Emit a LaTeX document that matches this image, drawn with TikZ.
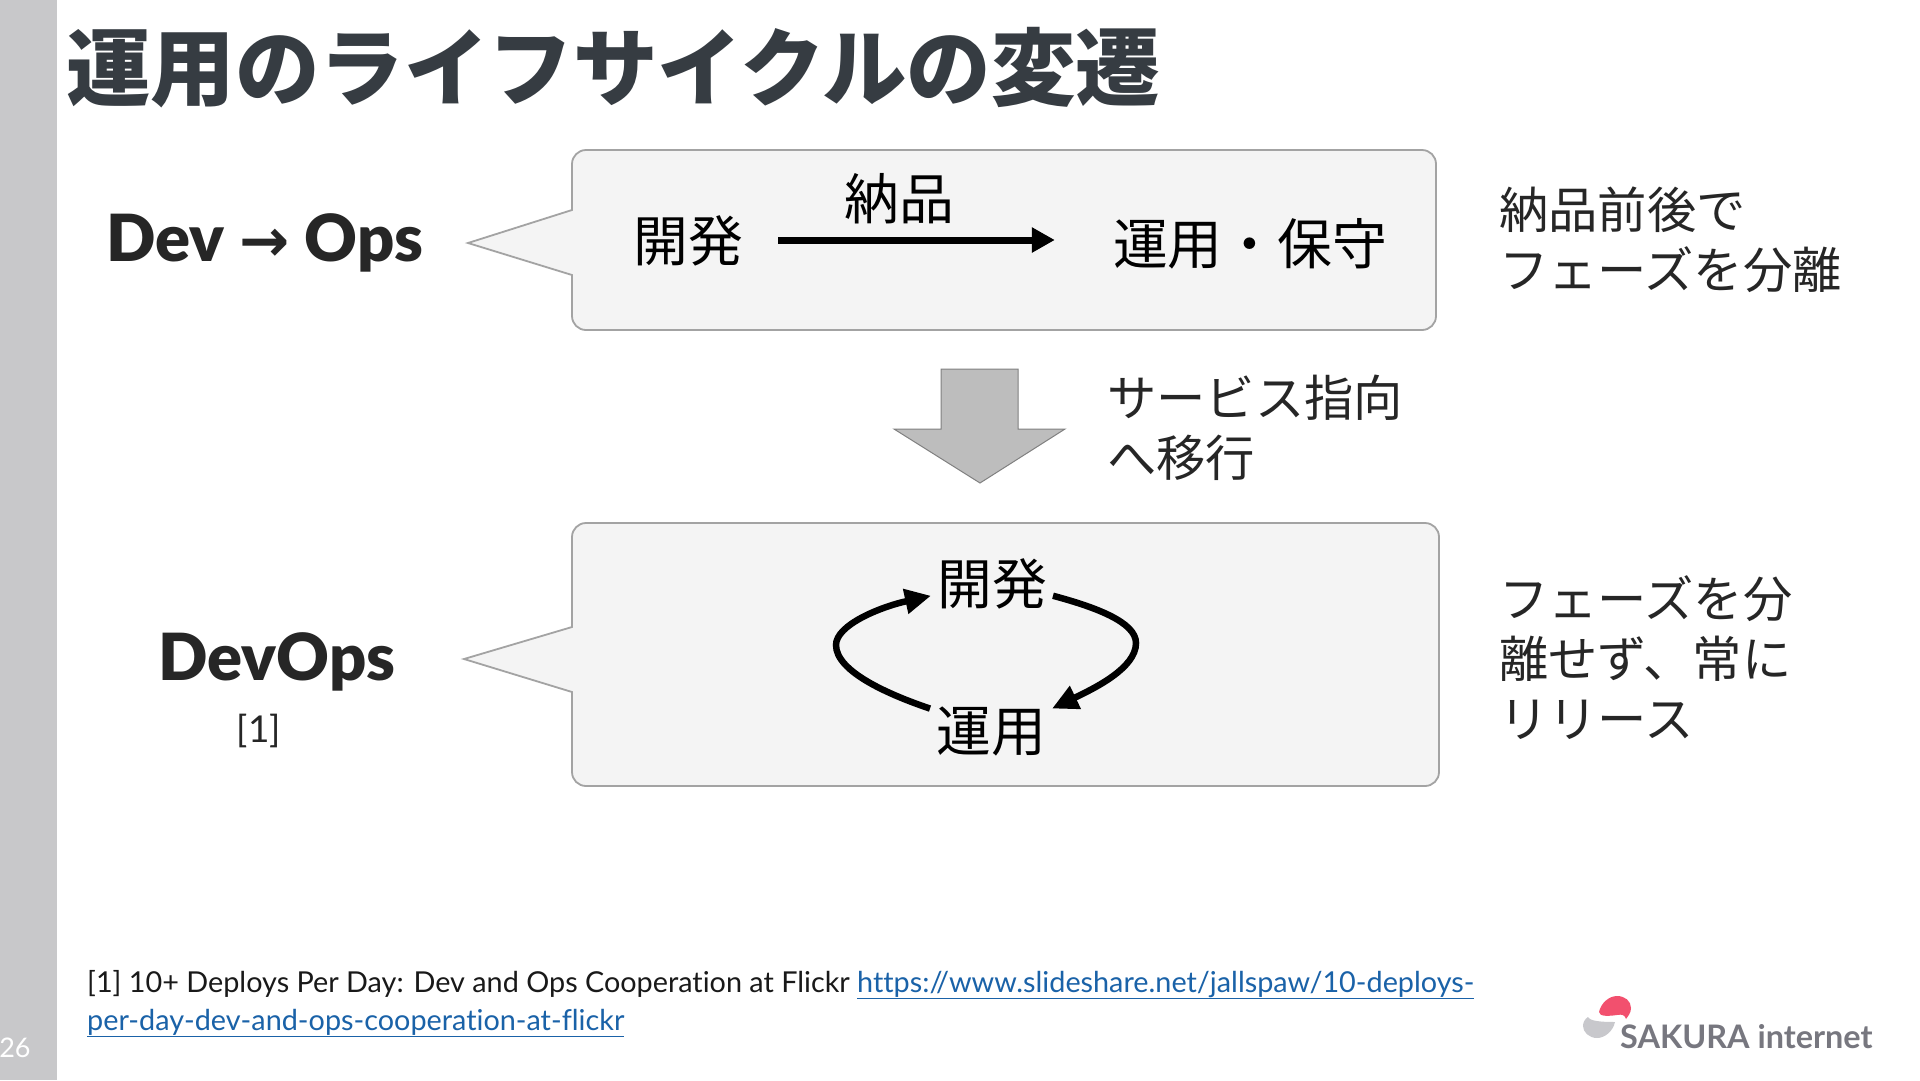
\documentclass[tikz,border=0pt]{standalone}
\usepackage{fontspec}
\setmainfont{Lato}[Ligatures=NoCommon]
\newfontfamily\cjk{Noto Sans CJK JP}
\newfontfamily\djv{DejaVu Sans}
\newfontfamily\heavy{Lato Black}
\usetikzlibrary{arrows.meta,calc}
\definecolor{barcol}{HTML}{C8C8CA}
\definecolor{titlecol}{HTML}{363C42}
\definecolor{boxfill}{HTML}{F4F4F4}
\definecolor{boxline}{HTML}{A3A3A3}
\definecolor{blockfill}{HTML}{BDBDBD}
\definecolor{blockline}{HTML}{808080}
\definecolor{linkcol}{HTML}{1A62A8}
\definecolor{logotext}{HTML}{77777F}
\definecolor{logored}{HTML}{F2506E}
\definecolor{logogray}{HTML}{C8C8CC}
\tikzset{
  x=1pt,y=-1pt,
  bubble/.style={draw=boxline,fill=boxfill,line width=1.8pt,line join=miter},
  jpbig/.style={font=\cjk\fontsize{54.8}{60}\selectfont,text=black,inner sep=0pt,text height=46pt,text depth=8pt},
  jploop/.style={jpbig,inner sep=6pt},
  jpside/.style={font=\cjk\fontsize{49.3}{60}\selectfont,text=black!85,inner sep=0pt,anchor=west,align=left},
  heading/.style={font=\heavy\fontsize{65}{70}\selectfont,text=black!85,inner sep=0pt},
  foot/.style={font=\fontsize{28.8}{34}\selectfont,text=black!90,inner sep=0pt,anchor=base west},
  thickarrow/.style={line width=7pt,-{Triangle[length=23pt,width=24pt]},black},
  looparrow/.style={line width=6.5pt,-{Triangle[length=26pt,width=24pt]},black},
}
\begin{document}
\begin{tikzpicture}
\useasboundingbox (0,0) rectangle (1920,1080);
\fill[white] (0,0) rectangle (1920,1080);
\fill[barcol] (0,0) rectangle (57,1080);
\node[font=\fontsize{27}{30}\selectfont,text=white,inner sep=0pt] (pageno) at (15,1048) {26};
\node[font=\cjk\bfseries\fontsize{84.5}{90}\selectfont,text=titlecol,inner sep=0pt,anchor=west] (title) at (66,68) {運用のライフサイクルの変遷};

% callout 1
\draw[bubble] (572,210) -- (468,243) -- (572,275) -- (572,316) [rounded corners=14pt] -- (572,330) -- (1436,330) -- (1436,150) -- (572,150) [sharp corners] -- (572,170) -- cycle;
% callout 2
\draw[bubble] (572,627) -- (464,659) -- (572,692) -- (572,770) [rounded corners=14pt] -- (572,786) -- (1439,786) -- (1439,523) -- (572,523) [sharp corners] -- (572,545) -- cycle;

\node[heading] (devops1) at (265,243) {Dev {\djv\bfseries\fontsize{60}{62}\selectfont →} Ops};
\node[heading] (devops2) at (277,662) {DevOps};
\node[font=\fontsize{37}{40}\selectfont,text=black!85,inner sep=0pt] (ref) at (259,731) {[1]};

\node[jpbig] (dev1) at (688,242) {開発};
\node[jpbig] (nohin) at (899,200) {納品};
\node[jpbig] (ops1) at (1250,245) {運用・保守};
\draw[thickarrow,shorten <=35pt,shorten >=58pt] ([yshift=2pt]dev1.east) -- ([yshift=5pt]ops1.west);

\node[jpside] (side1) at (1499,240) {納品前後で\\フェーズを分離};
\node[jpside] (shift) at (1107,428) {サービス指向\\へ移行};
\node[jpside] (side2) at (1499,658) {フェーズを分\\離せず、常に\\リリース};

\draw[fill=blockfill,draw=blockline,line width=1pt,line join=miter] (941,369) -- (1018,369) -- (1018,429) -- (1065,429) -- (980,483) -- (894,429) -- (941,429) -- cycle;

\node[jploop] (dev2) at (992,585) {開発};
\node[jploop] (ops2) at (991,732) {運用};
\draw[looparrow] (dev2.-10) .. controls (1095,607) and (1136,622) .. (1136,643) .. controls (1136,668) and (1095,688) .. (ops2.21);
\draw[looparrow] (ops2.159) .. controls (890,695) and (836,672) .. (836,645) .. controls (836,625) and (880,607) .. (dev2.190);

\node[foot] (fn1) at (87,992) {[1] 10+ Deploys Per Day: Dev and Ops Cooperation at Flickr \textcolor{linkcol}{\underline{https://www.slideshare.net/jallspaw/10-deploys-}}};
\node[foot] (fn2) at (87,1030) {\textcolor{linkcol}{\underline{per-day-dev-and-ops-cooperation-at-flickr}}};

% logo
\fill[logored] (1599,1012) .. controls (1601,1003) and (1609,996) .. (1617,996) .. controls (1625,996) and (1631,1001) .. (1631,1008) .. controls (1631,1013) and (1628,1016) .. (1626,1019) .. controls (1625,1015) and (1622,1014) .. (1617,1015) .. controls (1610,1016) and (1599,1017) .. (1599,1012) -- cycle;
\fill[logogray] (1588,1017) .. controls (1590,1021) and (1600,1022) .. (1615,1022) .. controls (1613,1031) and (1605,1038) .. (1597,1038) .. controls (1589,1038) and (1583,1032) .. (1583,1026) .. controls (1583,1022) and (1585,1019) .. (1588,1017) -- cycle;
\node[font=\bfseries\fontsize{32.4}{34}\selectfont,text=logotext,inner sep=0pt,anchor=base west] (logo) at (1620,1048) {SAKURA internet};
\end{tikzpicture}
\end{document}
